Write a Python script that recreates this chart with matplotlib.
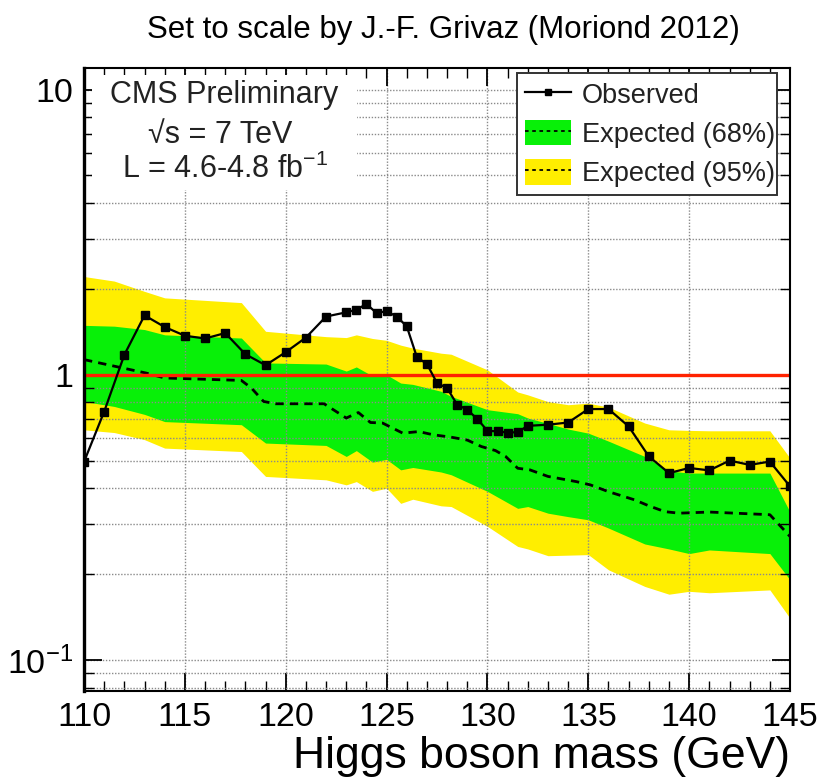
import numpy as np
import matplotlib.pyplot as plt
from matplotlib.lines import Line2D
from matplotlib.patches import Patch, Rectangle
from matplotlib.ticker import MultipleLocator, LogLocator, NullFormatter

plt.rcParams['font.family'] = ['Liberation Sans', 'DejaVu Sans']
plt.rcParams['mathtext.fontset'] = 'custom'
plt.rcParams['mathtext.rm'] = 'Liberation Sans'
plt.rcParams['mathtext.it'] = 'Liberation Sans:italic'
plt.rcParams['mathtext.bf'] = 'Liberation Sans:bold'

# ------------------------------------------------------------
# Observed 95% CL limit on sigma/sigma_SM
# ------------------------------------------------------------
mass_obs = [110, 111, 112, 113, 114, 115, 116, 117, 118, 119, 120, 121, 122,
            123, 123.5, 124, 124.5, 125, 125.5, 126, 126.5, 127, 127.5, 128,
            128.5, 129, 129.5, 130, 130.5, 131, 131.5, 132, 133, 134, 135,
            136, 137, 138, 139, 140, 141, 142, 143, 144, 145]
limit_obs = [0.495, 0.743, 1.175, 1.615, 1.47, 1.37, 1.34, 1.40, 1.18, 1.08,
             1.20, 1.35, 1.60, 1.655, 1.69, 1.77, 1.646, 1.67, 1.60, 1.478,
             1.153, 1.09, 0.935, 0.898, 0.785, 0.754, 0.699, 0.636, 0.633,
             0.627, 0.629, 0.662, 0.668, 0.68, 0.758, 0.758, 0.659, 0.517,
             0.452, 0.471, 0.462, 0.50, 0.483, 0.496, 0.406]

# Expected median
mass_exp = [110, 111.7, 113.1, 114, 117.8, 118.3, 118.9, 119.5, 121.9, 122.5,
            123.0, 123.6, 124.2, 124.8, 125.8, 126.6, 127.3, 128.2, 129, 129.7,
            130.4, 130.9, 131.5, 132.1, 133, 134.4, 135.1, 136, 137.3, 138,
            138.8, 139.5, 141, 144, 145]
limit_exp = [1.13, 1.064, 1.013, 0.974, 0.955, 0.898, 0.806, 0.791, 0.791,
             0.743, 0.705, 0.737, 0.68, 0.677, 0.624, 0.632, 0.616, 0.604,
             0.59, 0.56, 0.542, 0.517, 0.47, 0.464, 0.44, 0.422, 0.411, 0.389,
             0.364, 0.347, 0.331, 0.327, 0.33, 0.323, 0.271]

# Expected bands (68% green, 95% yellow)
mass_band = [110, 111.5, 113, 114, 117.8, 119, 122, 123, 123.5, 124.3, 125,
             125.7, 126.3, 127.7, 128.2, 130, 131.5, 132, 133, 134, 135, 136,
             137.8, 139, 140, 141, 144, 145]
band95_hi = [2.21, 2.13, 1.96, 1.86, 1.79, 1.42, 1.36, 1.35, 1.38, 1.34, 1.32,
             1.27, 1.24, 1.19, 1.18, 1.04, 0.87, 0.85, 0.805, 0.785, 0.795,
             0.77, 0.677, 0.641, 0.638, 0.636, 0.636, 0.51]
band68_hi = [1.49, 1.48, 1.44, 1.38, 1.345, 1.10, 1.09, 1.03, 1.065, 0.99,
             1.0, 0.935, 0.925, 0.875, 0.84, 0.754, 0.73, 0.705, 0.675, 0.645,
             0.624, 0.585, 0.517, 0.46, 0.452, 0.452, 0.452, 0.33]
band68_lo = [0.806, 0.774, 0.726, 0.685, 0.668, 0.576, 0.565, 0.517, 0.542,
             0.494, 0.505, 0.464, 0.473, 0.456, 0.446, 0.39, 0.34, 0.345,
             0.327, 0.318, 0.31, 0.29, 0.255, 0.245, 0.236, 0.243, 0.236,
             0.191]
band95_lo = [0.641, 0.627, 0.592, 0.553, 0.538, 0.44, 0.428, 0.411, 0.422,
             0.39, 0.40, 0.354, 0.366, 0.347, 0.345, 0.294, 0.25, 0.245,
             0.232, 0.233, 0.234, 0.207, 0.181, 0.17, 0.174, 0.172, 0.176,
             0.14]

xticks = [110, 115, 120, 125, 130, 135, 140, 145]
yticks = [0.1, 1, 10]
ytick_labels = [r'$10^{-1}$', '1', '10']

GREEN = '#08f008'
YELLOW = '#ffee00'
RED = '#ff2200'

fig = plt.figure(figsize=(8.27, 7.78), dpi=100)
ax = fig.add_axes([0.1016, 0.1118, 0.8537, 0.8008])

ax.fill_between(mass_band, band95_lo, band95_hi, color=YELLOW, lw=0, zorder=1)
ax.fill_between(mass_band, band68_lo, band68_hi, color=GREEN, lw=0, zorder=1.1)
ax.plot(mass_exp, limit_exp, color='black', lw=2.0, ls=(0, (3, 2.2)), zorder=2)
ax.axhline(1, color=RED, lw=2.4, zorder=2.1)
ax.plot(mass_obs, limit_obs, color='black', lw=1.6, marker='s', ms=6.3,
        zorder=3)

ax.set_yscale('log')
ax.set_xlim(110, 145)
ax.set_ylim(0.0778, 11.9)

ax.set_xticks(xticks)
ax.xaxis.set_minor_locator(MultipleLocator(1))
ax.set_yticks(yticks)
ax.set_yticklabels(ytick_labels)
ax.yaxis.set_minor_locator(LogLocator(base=10, subs=np.arange(2, 10)))
ax.yaxis.set_minor_formatter(NullFormatter())

ax.tick_params(which='both', direction='in', top=True, right=True,
               labelsize=24.5, color='black')
ax.tick_params(which='major', length=13, width=1.3)
ax.tick_params(which='minor', length=7, width=1.0)
ax.tick_params(axis='x', pad=8)
ax.tick_params(axis='y', pad=8)

ax.grid(True, which='major', axis='x', color='#8a8a8a', lw=1.0, ls=(0, (1, 1.2)))
ax.grid(True, which='both', axis='y', color='#8a8a8a', lw=1.0, ls=(0, (1, 1.2)))

for side in ['top', 'right', 'bottom']:
    ax.spines[side].set_linewidth(1.5)
ax.spines['left'].set_linewidth(2.4)

# white pave behind the CMS label
ax.add_patch(Rectangle((0.012, 0.804), 0.375, 0.184, transform=ax.transAxes,
                       facecolor='white', edgecolor='none', zorder=1.6))
ax.text(0.198, 0.957, 'CMS Preliminary', transform=ax.transAxes,
        fontsize=22, ha='center', va='center', color='#222222', zorder=4)
ax.text(0.193, 0.892, '\u221as = 7 TeV', transform=ax.transAxes,
        fontsize=22, ha='center', va='center', color='#222222', zorder=4)
ax.text(0.200, 0.837, r'L = 4.6-4.8 fb$^{\mathregular{-1}}$',
        transform=ax.transAxes, fontsize=22, ha='center', va='center',
        color='#222222', zorder=4)

obs_handle = Line2D([], [], color='black', lw=1.6, marker='s', ms=4)
dash_handle = Line2D([], [], color='black', lw=1.3, ls=(0, (2, 2)))
leg = ax.legend(handles=[obs_handle,
                         (Patch(facecolor=GREEN, lw=0), dash_handle),
                         (Patch(facecolor=YELLOW, lw=0), dash_handle)],
                labels=['Observed', 'Expected (68%)', 'Expected (95%)'],
                loc='upper left', bbox_to_anchor=(0.613, 0.798, 0.369, 0.194),
                mode='expand', borderaxespad=0, fontsize=19.5,
                handlelength=1.7, handleheight=1.05, handletextpad=0.4,
                labelspacing=0.42, borderpad=0.3, fancybox=False,
                framealpha=1, edgecolor='#333333')
leg.get_frame().set_linewidth(1.4)
leg.set_zorder(5)
for t in leg.get_texts():
    t.set_color('#222222')

fig.text(790 / 827, 10 / 778, 'Higgs boson mass (GeV)', fontsize=32,
         ha='right', va='baseline')

fig.text(0.536, 0.961, 'Set to scale by J.-F. Grivaz (Moriond 2012)',
         fontsize=22.5, ha='center', va='center')

fig.savefig('out.png', dpi=100)
